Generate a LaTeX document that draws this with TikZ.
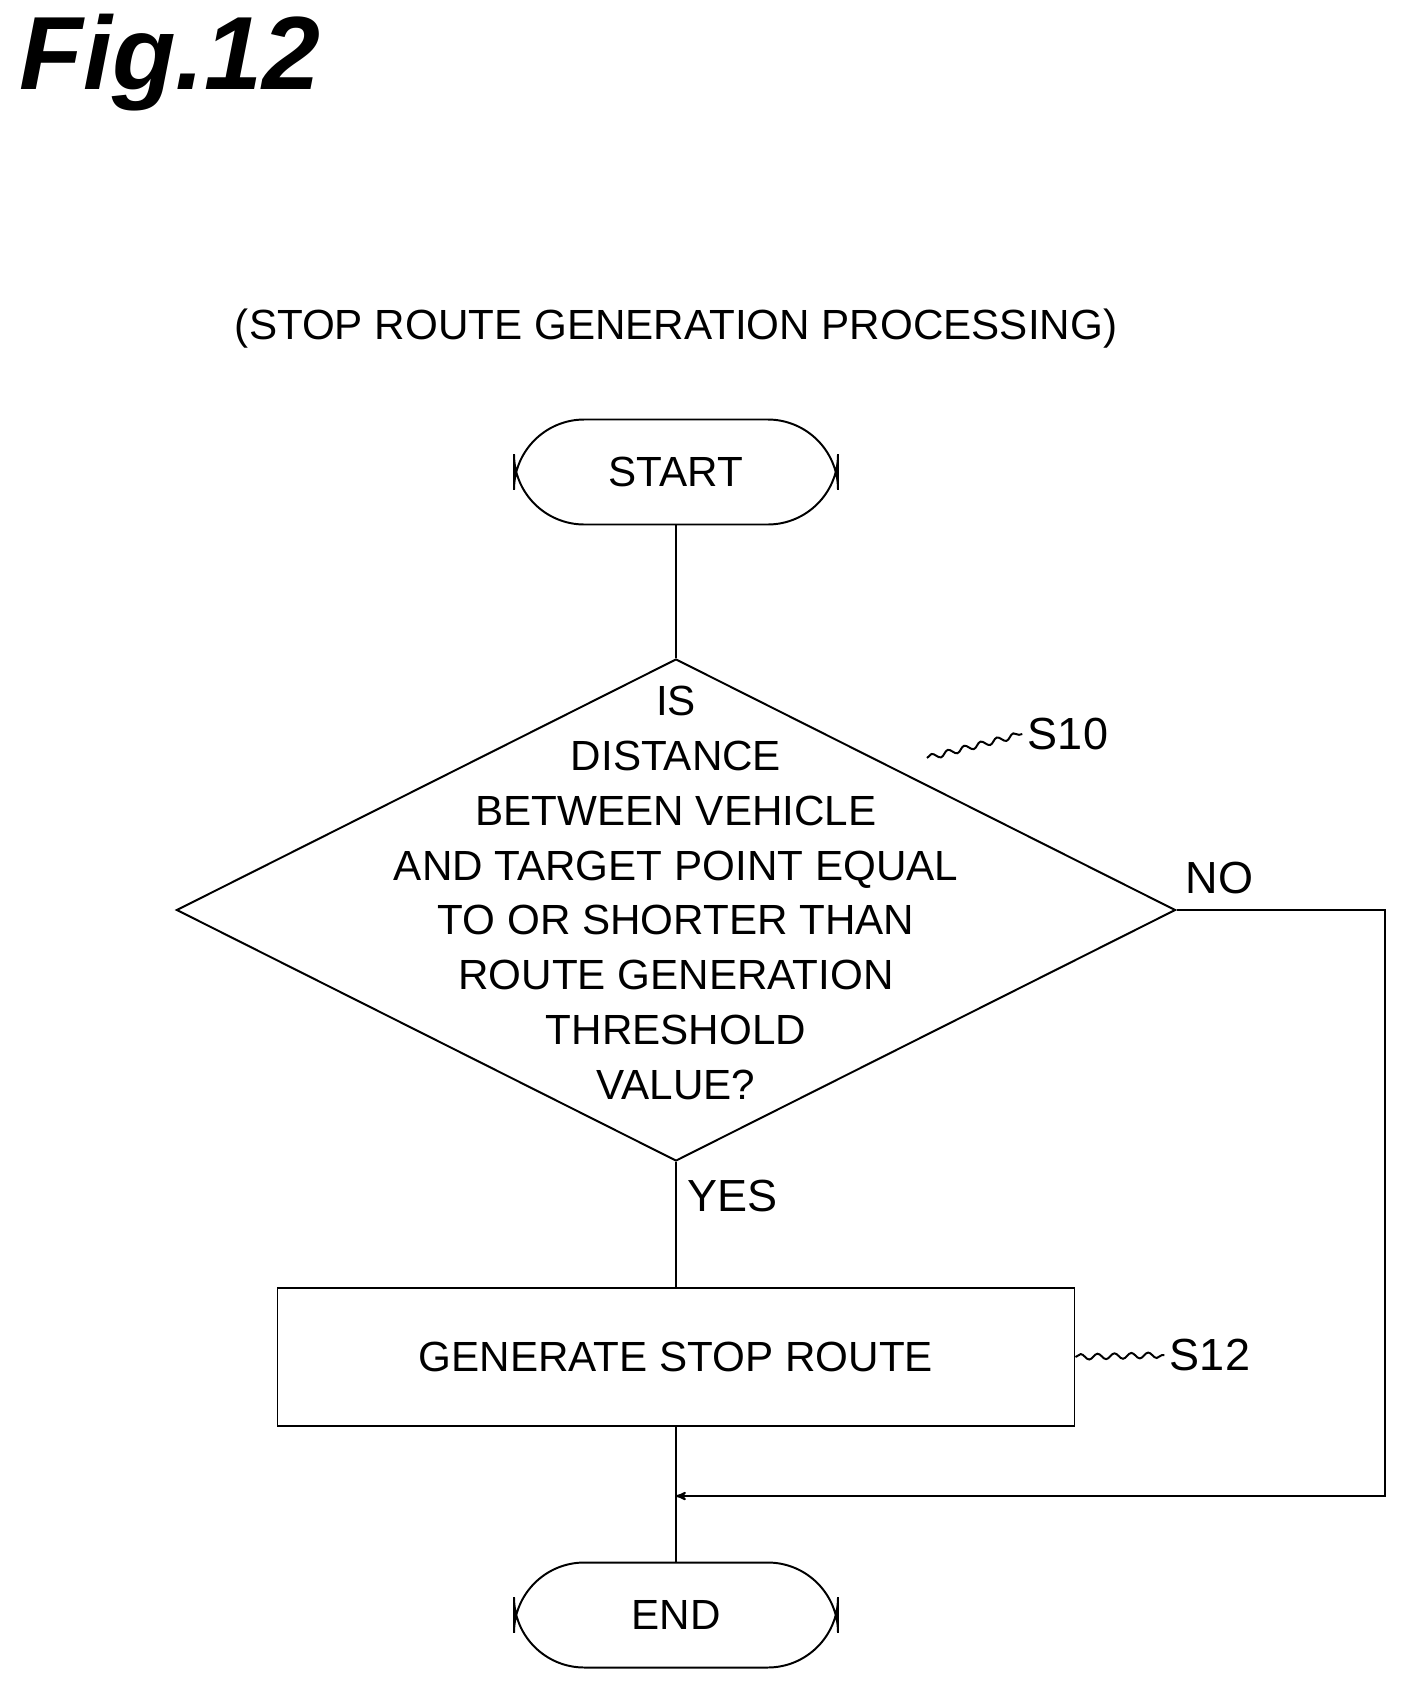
\documentclass[tikz,border=0pt]{standalone}
\usepackage{fontspec}
\setmainfont{Liberation Sans}
\usetikzlibrary{arrows,shapes.geometric,decorations.pathmorphing}
\tikzset{
  flowtext/.style = {align=center, font=\fontsize{30}{39}\selectfont},
  term/.style = {flowtext, draw=black, rounded corners=50pt,
    minimum width=324*0.025cm, minimum height=105*0.025cm},% start / end
  decide/.style = {flowtext, diamond, draw=black, inner sep=0pt,
    minimum width=999*0.025cm, minimum height=502*0.025cm},% branch
  proc/.style = {flowtext, draw=black,
    minimum width=797*0.025cm, minimum height=138*0.025cm},% process
  tag/.style = {font=\fontsize{32}{38}\selectfont},
  squig/.style = {decorate, decoration={snake, amplitude=2pt, segment length=12pt}}
}
\begin{document}
\begin{tikzpicture}[x=0.025cm,y=-0.025cm,line width=1.4pt,>=stealth']
\useasboundingbox (0,0) rectangle (1405,1689);
\node [anchor=north west, font=\fontsize{74}{80}\selectfont\bfseries\itshape]
  (fig) at (14,8) {Fig.12};
\node [flowtext] (title) at (676,329) {(STOP ROUTE GENERATION PROCESSING)};
\node [term] (start) at (676,472) {START};
\node [decide] (s10) at (676,910) {};
\node [flowtext] (q) at (676,893) {IS\\DISTANCE\\BETWEEN VEHICLE\\AND TARGET POINT EQUAL\\TO OR SHORTER THAN\\ROUTE GENERATION\\THRESHOLD\\VALUE?};
\node [proc] (s12) at (676,1357) {GENERATE STOP ROUTE};
\node [term] (end) at (676,1615) {END};
\coordinate (c1) at (1385,910);
\coordinate (c2) at (1385,1496);
\coordinate (join) at (676,1496);
%labels
\node [tag] (l10) at (1068,734) {S10};
\node [tag] (l12) at (1210,1355) {S12};
\node [tag, anchor=south west] (no) at (1180,900) {NO};
\node [tag, anchor=west] (yes) at (682,1196) {YES};
\draw [squig] (927,758) -- (l10.west);
\draw [squig] (s12.east) -- (l12.west);
%connectors
\draw (start) -- (s10.north);
\draw (s10.south) -- (s12);
\draw (s12) -- (end);
\draw [->] (s10.east) -- (c1) -- (c2) -- (join);
\end{tikzpicture}
\end{document}
